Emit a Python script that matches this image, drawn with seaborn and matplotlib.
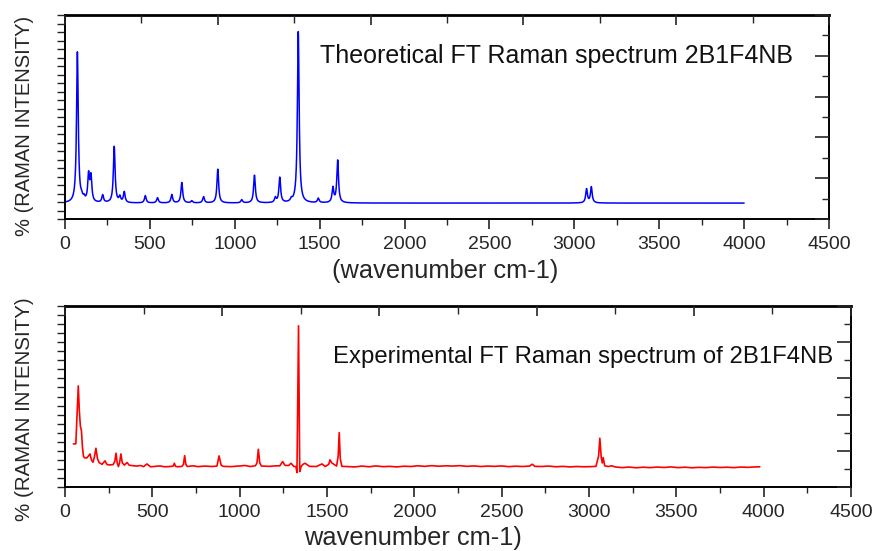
import numpy as np
import pandas as pd
import matplotlib
matplotlib.use("Agg")
import matplotlib.pyplot as plt
import seaborn as sns
from matplotlib import font_manager as fm
from matplotlib.ticker import MultipleLocator, FixedLocator

# ---------------------------------------------------------------- data
# Theoretical (calculated) Raman bands: position (cm-1) and relative intensity
theo_pos = [73, 98, 112, 139, 153, 222, 290, 323, 349, 473, 545, 629, 688, 747,
            816, 900, 1041, 1116, 1239, 1265, 1333, 1374, 1492, 1578, 1606,
            3072, 3100]
theo_int = [87, 2.0, 2.0, 15.5, 14.5, 4.3, 32.5, 3.2, 6.2, 4.2, 3.0, 4.8, 11.8,
            1.2, 3.6, 19.5, 1.8, 16.0, 2.8, 14.5, 1.5, 99, 2.5, 8.5, 24.5,
            8.0, 9.2]
theo_hwhm = 6.0   # band half width (cm-1)

# Experimental FT-Raman trace (wavenumber cm-1, relative intensity)
exp_wn = [48, 62, 70, 76, 82, 88, 94, 100, 106, 115, 125, 135, 143, 152, 160,
          168, 177, 186, 195, 212, 229, 240, 250, 275, 285, 292, 299, 306, 313,
          320, 328, 340, 355, 368, 380, 410, 433, 450, 469, 490, 520, 544, 570,
          600, 620, 626, 633, 645, 670, 678, 685, 692, 700, 735, 760, 800, 840,
          870, 882, 894, 905, 950, 990, 1030, 1060, 1090, 1099, 1107, 1115, 1125,
          1170, 1200, 1230, 1246, 1258, 1265, 1280, 1294, 1310, 1322, 1328, 1337,
          1344, 1352, 1362, 1374, 1400, 1440, 1471, 1490, 1510, 1517, 1528, 1540,
          1555, 1564, 1570, 1576, 1585, 1620, 1660, 1700, 1740, 1780, 1820, 1860,
          1900, 1940, 1980, 2020, 2060, 2100, 2140, 2180, 2220, 2260, 2300, 2340,
          2380, 2420, 2460, 2500, 2540, 2580, 2620, 2660, 2675, 2690, 2730, 2770,
          2810, 2850, 2890, 2930, 2970, 3010, 3040, 3055, 3062, 3070, 3076, 3081,
          3090, 3110, 3130, 3150, 3190, 3230, 3270, 3310, 3350, 3390, 3430, 3470,
          3510, 3550, 3590, 3630, 3670, 3710, 3750, 3790, 3830, 3870, 3910, 3950,
          3978]
exp_int = [16.5, 16.5, 40, 57.5, 40, 29, 26, 14, 7.5, 6.5, 6.6, 8.0, 9.4, 5.0, 3.5,
           7.0, 13.4, 6.0, 3.3, 2.0, 4.5, 2.0, 1.6, 1.8, 4.0, 9.9, 3.0, 0.4, 3.5,
           9.4, 3.0, 1.5, 3.3, 1.4, 1.2, 0.8, 1.2, 0.4, 2.3, 0.3, 0.6, 0.9, 0.3,
           0.5, 0.8, 2.8, 0.6, 0.3, 0.6, 2.0, 8.2, 2.0, 0.5, 1.0, 0.4, 0.8, 0.5,
           0.8, 8.0, 1.5, 0.6, 0.4, 0.8, 1.2, 0.5, 1.0, 3.0, 12.7, 3.0, 0.8, 0.6,
           0.9, 1.0, 4.0, 1.5, 1.2, 1.2, 2.8, 0.5, 0.5, -3.8, 100, -3.1, 0.5, 2.0,
           2.8, 0.6, 0.5, 2.3, 0.5, 2.0, 5.2, 3.0, 2.0, 0.8, 8.0, 24.5, 6.0, 0.6,
           0.4, 0.2, 0.8, 0.3, 0.9, 0.4, 0.6, 0.2, 0.7, 0.5, 1.0, 0.6, 1.1, 0.7,
           1.0, 0.8, 1.1, 0.6, 0.9, 0.5, 0.8, 0.6, 0.9, 0.4, 0.7, 0.5, 0.8, 2.1,
           0.6, 0.5, 0.8, 0.3, 0.6, 0.2, 0.5, 0.3, 0.4, 0.6, 8.0, 20.5, 7.0, 3.0,
           6.8, 1.0, 0.5, 1.0, 0.2, -0.3, 0.1, -0.4, 0.0, -0.3, 0.1, -0.2, 0.2,
           -0.3, 0.0, -0.4, -0.1, -0.3, 0.1, -0.2, 0.0, -0.3, 0.1, -0.1, 0.2, 0.3]

x_ticks = list(range(0, 4501, 500))
x_ticklabels = [str(v) for v in x_ticks]

theo_title = "Theoretical FT Raman spectrum 2B1F4NB"
exp_title = "Experimental FT Raman spectrum of 2B1F4NB"
y_title = "% (RAMAN INTENSITY)"
x_title_top = "(wavenumber cm-1)"
x_title_bottom = "wavenumber cm-1)"


def pick_font(candidates):
    for name in candidates:
        try:
            fm.findfont(name, fallback_to_default=False)
            return name
        except Exception:
            continue
    return "DejaVu Sans"


narrow = pick_font(["Liberation Sans Narrow", "Arial Narrow", "Liberation Sans"])
regular = pick_font(["Liberation Sans", "Arial"])

sns.set_style("white")
plt.rcParams["font.family"] = [regular, "DejaVu Sans"]
plt.rcParams["axes.linewidth"] = 1.4
plt.rcParams["axes.edgecolor"] = "black"

W, H = 872, 551
fig = plt.figure(figsize=(W / 100, H / 100), dpi=100)
ax1 = fig.add_axes([65 / W, 1 - 219 / H, 764 / W, 204 / H])
ax2 = fig.add_axes([65 / W, 1 - 487 / H, 786 / W, 181 / H])

# ---------------------------------------------------------------- theoretical
grid = np.arange(0, 4001, 1.0)
pos = np.array(theo_pos)[:, None]
amp = np.array(theo_int)[:, None]
theo = (amp * theo_hwhm ** 2 / ((grid[None, :] - pos) ** 2 + theo_hwhm ** 2)).sum(axis=0)
df_theo = pd.DataFrame({"wavenumber": grid, "intensity": theo})
sns.lineplot(data=df_theo, x="wavenumber", y="intensity", ax=ax1,
             color="#0000ff", linewidth=1.1)

# ---------------------------------------------------------------- experimental
df_exp = pd.DataFrame({"wavenumber": exp_wn, "intensity": exp_int})
sns.lineplot(data=df_exp, x="wavenumber", y="intensity", ax=ax2,
             color="#ff0000", linewidth=1.2, sort=False)

tick_font = [narrow, "DejaVu Sans"]


def style_panel(ax, ylo, yhi, n_left, text, tx, ty, tsize):
    ax.set_xlim(0, 4500)
    ax.set_ylim(ylo, yhi)
    ax.set_xlabel("")
    ax.set_ylabel("")
    ax.xaxis.set_major_locator(FixedLocator(x_ticks))
    ax.set_xticklabels(x_ticklabels, fontsize=14, family=tick_font)
    ax.xaxis.set_minor_locator(MultipleLocator(250))
    ax.yaxis.set_major_locator(FixedLocator(np.linspace(ylo, yhi, n_left // 2 + 1)))
    ax.yaxis.set_minor_locator(FixedLocator(np.linspace(ylo, yhi, n_left + 1)))
    ax.tick_params(axis="x", which="major", direction="out", length=7, width=1.2,
                   pad=5, bottom=True, top=False)
    ax.tick_params(axis="x", which="minor", direction="out", length=4, width=1.0,
                   bottom=True, top=False)
    ax.tick_params(axis="y", which="major", direction="out", length=10, width=1.2,
                   left=True, right=False, labelleft=False)
    ax.tick_params(axis="y", which="minor", direction="out", length=6, width=1.0,
                   left=True, right=False)
    for s in ax.spines.values():
        s.set_visible(True)
        s.set_linewidth(1.4)
    ax.spines["top"].set_linewidth(2.0)
    ax.text(tx, ty, text, transform=ax.transAxes, ha="left", va="center",
            fontsize=tsize, color="#111111")

    top = ax.twiny()
    top.set_xlim(0, 5000)
    top.xaxis.set_major_locator(MultipleLocator(1000))
    top.xaxis.set_minor_locator(MultipleLocator(500))
    top.tick_params(axis="x", which="major", direction="in", length=7, width=1.2,
                    labeltop=False, top=True)
    top.tick_params(axis="x", which="minor", direction="in", length=6, width=1.0,
                    top=True)
    top.set_yticks([])

    right = ax.twinx()
    right.set_ylim(0, 10)
    right.yaxis.set_major_locator(MultipleLocator(2))
    right.yaxis.set_minor_locator(MultipleLocator(1))
    right.tick_params(axis="y", which="major", direction="in", length=10, width=1.2,
                      labelright=False, right=True)
    right.tick_params(axis="y", which="minor", direction="in", length=5, width=1.0,
                      right=True)
    for extra in (top, right):
        for s in extra.spines.values():
            s.set_visible(False)


style_panel(ax1, -9.2, 108.7, 24, theo_title, 0.334, 0.80, 18)
style_panel(ax2, -14.0, 114.0, 20, exp_title, 0.341, 0.718, 17.2)

lab_font = [narrow, "DejaVu Sans"]
fig.text(24 / W, 1 - 126 / H, y_title, rotation=90, ha="center", va="center",
         fontsize=14.5, family=lab_font)
fig.text(24 / W, 1 - 409 / H, y_title, rotation=90, ha="center", va="center",
         fontsize=14.8, family=lab_font)
fig.text(445 / W, 1 - 271 / H, x_title_top, ha="center", va="center",
         fontsize=18.3, family=lab_font)
fig.text(413 / W, 1 - 538 / H, x_title_bottom, ha="center", va="center",
         fontsize=18.3, family=lab_font)

fig.savefig("out.png", dpi=100, facecolor="white")
